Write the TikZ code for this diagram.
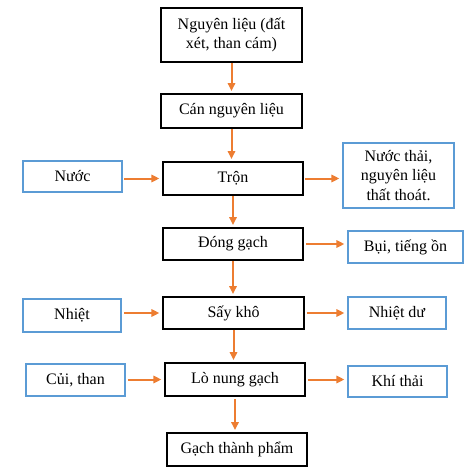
\documentclass[tikz,border=0pt]{standalone}
\usepackage{fontspec}
\setmainfont{Liberation Serif}
\usepackage{tikz}
\usetikzlibrary{arrows.meta,calc}
\definecolor{arrorange}{HTML}{ED7D31}
\definecolor{boxblue}{HTML}{5B9BD5}

\begin{document}
\begin{tikzpicture}[x=0.75pt,y=-0.75pt]
	\tikzstyle{mainbox} = [draw=black, line width=1.4pt, align=center, inner sep=0pt, font=\fontsize{12}{14.5}\selectfont]
	\tikzstyle{sidebox} = [draw=boxblue, line width=1.4pt, align=center, inner sep=0pt, font=\fontsize{12}{14.5}\selectfont]
	\tikzstyle{flow} = [draw=arrorange, line width=1.5pt, -{Triangle[length=6pt,width=5.5pt]}, arrorange]
	\useasboundingbox (0,0) rectangle (470,474);
	% main process
	\node[mainbox, minimum width=105.75pt, minimum height=40.5pt] (nl) at (231.5,35) {Nguyên liệu (đất\\xét, than cám)};
	\node[mainbox, minimum width=105.75pt, minimum height=25.5pt] (can) at (231.5,111) {Cán nguyên liệu};
	\node[mainbox, minimum width=105pt, minimum height=24.75pt] (tron) at (233,178.5) {Trộn};
	\node[mainbox, minimum width=105pt, minimum height=24pt] (dong) at (233,244) {Đóng gạch};
	\node[mainbox, minimum width=105.75pt, minimum height=24pt] (say) at (233.5,313) {Sấy khô};
	\node[mainbox, minimum width=105pt, minimum height=24.75pt] (lo) at (235,379.5) {Lò nung gạch};
	\node[mainbox, minimum width=105pt, minimum height=24.75pt] (gach) at (237,449.5) {Gạch thành phẩm};
	% inputs and outputs
	\node[sidebox, minimum width=74.25pt, minimum height=23.25pt] (nuoc) at (72.5,176.5) {Nước};
	\node[sidebox, minimum width=83.25pt, minimum height=48.75pt] (nuocthai) at (398.5,175.5) {Nước thải,\\nguyên liệu\\thất thoát.};
	\node[sidebox, minimum width=86.25pt, minimum height=24pt] (bui) at (405.5,247) {Bụi, tiếng ồn};
	\node[sidebox, minimum width=73.5pt, minimum height=24.75pt] (nhiet) at (72,315.5) {Nhiệt};
	\node[sidebox, minimum width=73.5pt, minimum height=24pt] (nhietdu) at (397,313) {Nhiệt dư};
	\node[sidebox, minimum width=74.25pt, minimum height=24pt] (cui) at (75.5,380) {Củi, than};
	\node[sidebox, minimum width=74.25pt, minimum height=23.25pt] (khi) at (397.5,381.5) {Khí thải};
	% vertical flow
	\draw[flow, shorten >=1.5pt] (nl.south) -- (can.north);
	\draw[flow, shorten >=1.5pt] (can.south) -- (can.south |- tron.north);
	\draw[flow, shorten >=1.5pt] (tron.south) -- (dong.north);
	\draw[flow, shorten >=1.5pt] (dong.south) -- (dong.south |- say.north);
	\draw[flow, shorten >=1.5pt] (say.south) -- (say.south |- lo.north);
	\draw[flow, shorten >=1.5pt, shorten <=1.5pt] (lo.south) -- (lo.south |- gach.north);
	% side flow
	\draw[flow, shorten >=2pt, shorten <=1pt] (nuoc.east |- tron.west) -- (tron.west);
	\draw[flow, shorten >=2pt, shorten <=1pt] (tron.east) -- (nuocthai.west |- tron.east);
	\draw[flow, shorten >=2pt, shorten <=1.5pt] (dong.east) -- (bui.west |- dong.east);
	\draw[flow, shorten >=2pt, shorten <=1.5pt] (nhiet.east |- say.west) -- (say.west);
	\draw[flow, shorten >=2pt, shorten <=1.5pt] (say.east) -- (nhietdu.west |- say.east);
	\draw[flow, shorten >=2pt, shorten <=1.5pt] (cui.east |- lo.west) -- (lo.west);
	\draw[flow, shorten >=2pt, shorten <=1.5pt] (lo.east) -- (khi.west |- lo.east);
\end{tikzpicture}
\end{document}
